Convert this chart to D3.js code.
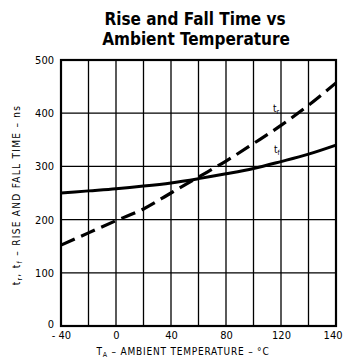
<!DOCTYPE html>
<html>
<head>
<meta charset="utf-8">
<script src="https://cdn.jsdelivr.net/npm/d3@7"></script>
<style>
  body { margin: 0; background: #fff; }
  text { font-family: "Liberation Sans Narrow", "DejaVu Sans Condensed", "Arial Narrow", sans-serif; fill: #000; }
</style>
</head>
<body>
<svg width="343" height="364"></svg>
<script>
const temps = [-40, -20, 0, 20, 40, 60, 80, 100, 120, 140, 160];
const fallTime = [250, 254, 258, 263, 269, 277, 286, 296, 309, 323, 340];
const riseTime = [152, 175, 198, 220, 250, 280, 310, 343, 377, 415, 457];
const xTicks = [-40, 0, 40, 80, 120, 160];
const xTickLabels = ["- 40", "0", "40", "80", "120", "140"];
const yTicks = [0, 100, 200, 300, 400, 500];

const svg = d3.select("svg");
const plotLeft = 61, plotRight = 336, plotTop = 60, plotBottom = 326;

const x = d3.scaleLinear().domain([-40, 160]).range([plotLeft, plotRight]);
const y = d3.scaleLinear().domain([0, 500]).range([plotBottom, plotTop]);

// title
svg.append("text")
    .attr("x", 195).attr("y", 25)
    .attr("text-anchor", "middle")
    .attr("font-size", 17).attr("font-weight", "bold")
    .text("Rise and Fall Time vs");
svg.append("text")
    .attr("x", 196).attr("y", 45)
    .attr("text-anchor", "middle")
    .attr("font-size", 17).attr("font-weight", "bold")
    .text("Ambient Temperature");

// grid
const grid = svg.append("g").attr("stroke", "#000").attr("stroke-width", 1.3);
grid.selectAll("line.v")
  .data(d3.range(-20, 160, 20))
  .join("line")
    .attr("class", "v")
    .attr("x1", d => x(d)).attr("x2", d => x(d))
    .attr("y1", plotTop).attr("y2", plotBottom);
grid.selectAll("line.h")
  .data(yTicks.slice(1, -1))
  .join("line")
    .attr("class", "h")
    .attr("x1", plotLeft).attr("x2", plotRight)
    .attr("y1", d => y(d)).attr("y2", d => y(d));

svg.append("rect")
    .attr("x", plotLeft).attr("y", plotTop)
    .attr("width", plotRight - plotLeft).attr("height", plotBottom - plotTop)
    .attr("fill", "none").attr("stroke", "#000").attr("stroke-width", 2.2);

// axes
const xAxis = svg.append("g")
    .attr("transform", `translate(0,${plotBottom})`)
    .call(d3.axisBottom(x).tickValues(xTicks).tickSize(0).tickPadding(5)
      .tickFormat((d, i) => xTickLabels[i]));
xAxis.select(".domain").remove();
xAxis.attr("font-family", null).attr("font-size", null);
xAxis.selectAll("text").attr("font-size", 11);
// last label sits flush with the right edge, like the original
xAxis.selectAll("text").filter((d, i) => i === xTicks.length - 1)
    .attr("text-anchor", "end").attr("dx", 6);

const yAxis = svg.append("g")
    .attr("transform", `translate(${plotLeft},0)`)
    .call(d3.axisLeft(y).tickValues(yTicks).tickSize(0).tickPadding(7));
yAxis.select(".domain").remove();
yAxis.attr("font-family", null).attr("font-size", null);
yAxis.selectAll("text").attr("font-size", 11);
yAxis.selectAll("text").filter(d => d === 0).attr("dy", "0.1em");

// axis titles
const xt = svg.append("text")
    .attr("x", 183).attr("y", 355)
    .attr("text-anchor", "middle")
    .attr("font-size", 10).attr("letter-spacing", 0.8);
xt.append("tspan").text("T");
xt.append("tspan").attr("font-size", 7).attr("dy", 2).text("A");
xt.append("tspan").attr("dy", -2).text("  –  AMBIENT TEMPERATURE  –  °C");

const yt = svg.append("text")
    .attr("transform", "translate(20,195) rotate(-90)")
    .attr("text-anchor", "middle")
    .attr("font-size", 10).attr("letter-spacing", 1.3);
yt.append("tspan").text("t");
yt.append("tspan").attr("font-size", 7).attr("dy", 2).text("r");
yt.append("tspan").attr("dy", -2).text(", t");
yt.append("tspan").attr("font-size", 7).attr("dy", 2).text("f");
yt.append("tspan").attr("dy", -2).text("  –  RISE AND FALL TIME  –  ns");

// curves
const line = d3.line().curve(d3.curveMonotoneX);
svg.append("path")
    .attr("d", line(temps.map((t, i) => [x(t), y(fallTime[i])])))
    .attr("fill", "none").attr("stroke", "#000").attr("stroke-width", 3);
svg.append("path")
    .attr("d", line(temps.map((t, i) => [x(t), y(riseTime[i])])))
    .attr("fill", "none").attr("stroke", "#000").attr("stroke-width", 3.2)
    .attr("stroke-dasharray", "15,7");

// curve labels
const lr = svg.append("text").attr("x", 273).attr("y", 112).attr("font-size", 10);
lr.append("tspan").text("t");
lr.append("tspan").attr("font-size", 7).attr("dy", 2).text("r");
const lf = svg.append("text").attr("x", 274).attr("y", 153).attr("font-size", 10);
lf.append("tspan").text("t");
lf.append("tspan").attr("font-size", 7).attr("dy", 2).text("f");
</script>
</body>
</html>
